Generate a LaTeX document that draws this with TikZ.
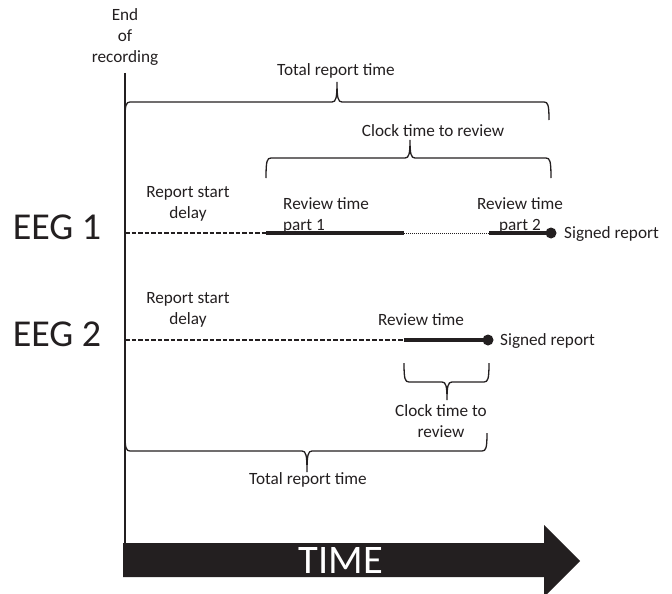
\documentclass[tikz,border=0pt]{standalone}
\usepackage{fontspec}
\setmainfont{Carlito}
\definecolor{ink}{HTML}{231F20}
\begin{document}
\begin{tikzpicture}[x=1pt,y=-1pt,
  lbl/.style={font=\fontsize{17.2}{21}\selectfont, text=ink, align=center, inner sep=0pt},
  big/.style={font=\fontsize{38}{40}\selectfont, text=ink, inner sep=0pt},
  thinline/.style={line width=1.3pt, draw=ink},
  bracepath/.style={line width=1.3pt, draw=ink},
  delayline/.style={line width=1.5pt, draw=ink, dash pattern=on 4.5pt off 2pt},
  reviewline/.style={line width=4pt, draw=ink},
  pauseline/.style={line width=0.9pt, draw=ink, dash pattern=on 1pt off 1pt},
  enddot/.style={circle, fill=ink, minimum size=11pt, inner sep=0pt},
]
\useasboundingbox (0,0) rectangle (672,594);

% time arrow
\fill[ink] (123,543) -- (544,543) -- (544,525) -- (580,561) -- (544,597) -- (544,577) -- (123,577) -- cycle;
\node[big, text=white, font=\fontsize{40.5}{42}\selectfont] (time) at (341,561) {TIME};

% end of recording
\node[lbl] (endrec) at (125,37) {End\\of\\recording};
\coordinate (vtop) at (125,73);
\coordinate (vbot) at (125,543);
\draw[thinline] (vtop) -- (vbot);

% top total brace
\draw[bracepath] (125,120) .. controls (125,105) and (126,102) .. (130,102) -- (332,102)
  .. controls (336,102) and (337,98) .. (337,82) .. controls (337,98) and (338,102) .. (342,102)
  -- (544,102) .. controls (548,102) and (549,105) .. (549,120);
\node[lbl] (total1) at (336,71) {Total report time};

% clock brace EEG1
\draw[bracepath] (266,178) .. controls (266,161) and (267,158) .. (271,158) -- (405,158)
  .. controls (409,158) and (410,154) .. (410,140) .. controls (410,154) and (411,158) .. (415,158)
  -- (546,158) .. controls (550,158) and (551,161) .. (551,178);
\node[lbl] (clock1) at (433,131) {Clock time to review};

% EEG 1
\node[big] (eeg1) at (57,227) {EEG 1};
\coordinate (e1s) at (125,233);
\coordinate (e1a) at (266,233);
\coordinate (e1b) at (404,233);
\coordinate (e1c) at (489,233);
\node[enddot] (d1) at (551,233) {};
\draw[delayline] (e1s) -- (e1a);
\draw[reviewline] (e1a) -- (e1b);
\draw[pauseline] (e1b) -- (e1c);
\draw[reviewline] (e1c) -- (d1.center);
\node[lbl, anchor=west] (sig1) at (564,234) {Signed report};
\node[lbl] (delay1) at (188,204) {Report start\\delay};
\node[lbl, align=left, anchor=west] (rev1) at (283,215) {Review time\\part 1};
\node[lbl] (rev2) at (520,215) {Review time\\part 2};

% EEG 2
\node[big] (eeg2) at (57,334) {EEG 2};
\coordinate (e2s) at (125,340);
\coordinate (e2a) at (404,340);
\node[enddot] (d2) at (488,340) {};
\draw[delayline] (e2s) -- (e2a);
\draw[reviewline] (e2a) -- (d2.center);
\node[lbl, anchor=west] (sig2) at (500,341) {Signed report};
\node[lbl] (delay2) at (188,310) {Report start\\delay};
\node[lbl] (rev3) at (421,320) {Review time};

% clock brace EEG2
\draw[bracepath] (404,363) .. controls (404,379) and (405,382) .. (409,382) -- (442,382)
  .. controls (446,382) and (447,386) .. (447,400) .. controls (447,386) and (448,382) .. (452,382)
  -- (484,382) .. controls (488,382) and (489,379) .. (489,363);
\node[lbl] (clock2) at (441,421) {Clock time to\\review};

% bottom total brace
\draw[bracepath] (125,433) .. controls (125,448) and (126,451) .. (130,451) -- (302,451)
  .. controls (306,451) and (307,455) .. (307,472) .. controls (307,455) and (308,451) .. (312,451)
  -- (482,451) .. controls (486,451) and (487,448) .. (487,433);
\node[lbl] (total2) at (308,480) {Total report time};
\end{tikzpicture}
\end{document}
